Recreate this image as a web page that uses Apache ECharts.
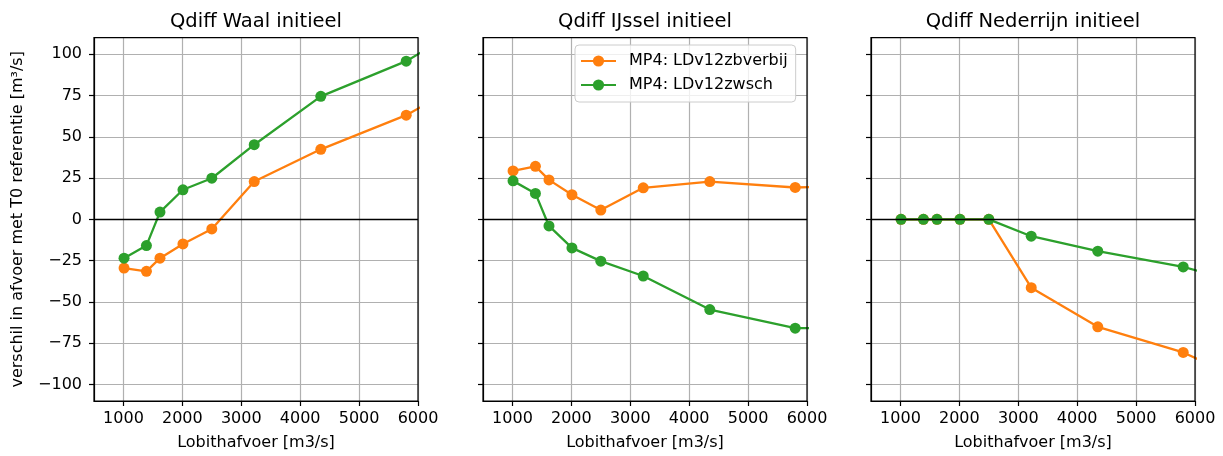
<!DOCTYPE html>
<html>
<head>
<meta charset="utf-8">
<script src="https://cdn.jsdelivr.net/npm/echarts@6/dist/echarts.min.js"></script>
<style>
  html, body { margin: 0; padding: 0; background: #fff; }
  #chart { width: 1223px; height: 456px; }
</style>
</head>
<body>
<div id="chart"></div>
<script>
// Lobith discharge [m3/s] for each computed scenario
const lobithQ = [1010, 1390, 1620, 2010, 2500, 3220, 4350, 5800, 7000];

// Discharge difference vs. T0 reference [m3/s]
const waalZbverbij = [-29.5, -31.5, -23.5, -14.9, -5.8, 22.9, 42.4, 63.1, 86.8];
const waalZwsch = [-23.5, -15.9, 4.4, 17.9, 24.9, 45.2, 74.5, 95.8, 121];
const ijsselZbverbij = [29.3, 32.1, 23.9, 14.9, 5.6, 19.1, 22.9, 19.3, 20.5];
const ijsselZwsch = [23.3, 15.7, -4.0, -17.3, -25.3, -34.3, -54.6, -65.9, -66];
const nederrijnZbverbij = [0, 0, 0, 0, 0, -41.4, -65.1, -80.6, -100];
const nederrijnZwsch = [0, 0, 0, 0, 0, -10.2, -19.3, -28.8, -40.3];

const panelTitles = ['Qdiff Waal initieel', 'Qdiff IJssel initieel', 'Qdiff Nederrijn initieel'];
const seriesNames = ['MP4: LDv12zbverbij', 'MP4: LDv12zwsch'];
const xTicks = [1000, 2000, 3000, 4000, 5000, 6000];
const yTicks = [-100, -75, -50, -25, 0, 25, 50, 75, 100];

const xLabel = 'Lobithafvoer [m3/s]';
const yLabel = 'verschil in afvoer met T0 referentie [m³/s]';

const panelData = [
  [waalZbverbij, waalZwsch],
  [ijsselZbverbij, ijsselZwsch],
  [nederrijnZbverbij, nederrijnZwsch]
];

const colors = ['#ff7f0e', '#2ca02c'];
const font = 'DejaVu Sans';
const gridLefts = [94, 483, 871];
const gridWidth = 324;
const gridTop = 37.7;
const gridHeight = 364.6;

const grids = gridLefts.map(l => ({
  left: l, top: gridTop, width: gridWidth, height: gridHeight,
  show: true, borderColor: '#000', borderWidth: 1.2, backgroundColor: 'transparent', z: 10
}));

const titles = panelTitles.map((t, i) => ({
  text: t,
  left: gridLefts[i] + gridWidth / 2,
  textAlign: 'center',
  top: 11.5,
  padding: 0,
  textStyle: { fontFamily: font, fontSize: 19.5, fontWeight: 'normal', color: '#000' }
}));

const xAxes = gridLefts.map((l, i) => ({
  type: 'value', gridIndex: i, min: 500, max: 6000,
  minInterval: 1000, maxInterval: 1000,
  name: xLabel, nameLocation: 'middle', nameGap: 34,
  nameTextStyle: { fontFamily: font, fontSize: 16, color: '#000' },
  axisLine: { show: true, onZero: false, lineStyle: { color: '#000', width: 1.2 } },
  axisTick: { show: true, length: 5, lineStyle: { color: '#000', width: 1.2 }, customValues: xTicks },
  axisLabel: { fontFamily: font, fontSize: 16, color: '#000', margin: 10, customValues: xTicks,
               formatter: v => String(v) },
  splitLine: { show: true, lineStyle: { color: '#b0b0b0', width: 1.2 } }
}));

const yAxes = gridLefts.map((l, i) => ({
  type: 'value', gridIndex: i, min: -110, max: 110,
  minInterval: 25, maxInterval: 25,
  name: i === 0 ? yLabel : '', nameLocation: 'middle', nameGap: 68, nameRotate: 90,
  nameTextStyle: { fontFamily: font, fontSize: 16, color: '#000' },
  axisLine: { show: true, onZero: false, lineStyle: { color: '#000', width: 1.2 } },
  axisTick: { show: true, length: 5, lineStyle: { color: '#000', width: 1.2 }, customValues: yTicks },
  axisLabel: { show: i === 0, fontFamily: font, fontSize: 16, color: '#000', margin: 12,
               customValues: yTicks,
               formatter: v => (v < 0 ? '\u2212' + Math.abs(v) : String(v)) },
  splitLine: { show: true, lineStyle: { color: '#b0b0b0', width: 1.2 } }
}));

const series = [];
panelData.forEach((pair, p) => {
  pair.forEach((vals, s) => {
    const item = {
      type: 'line',
      name: seriesNames[s],
      xAxisIndex: p, yAxisIndex: p,
      data: lobithQ.map((x, k) => [x, vals[k]]),
      symbol: 'circle', symbolSize: 11,
      showAllSymbol: true,
      clip: true,
      lineStyle: { color: colors[s], width: 2.3 },
      itemStyle: { color: colors[s] },
      emphasis: { disabled: true },
      z: 3 + s
    };
    if (s === 0) {
      // horizontal zero reference line
      item.markLine = {
        silent: true, symbol: ['none', 'none'], label: { show: false },
        lineStyle: { color: '#000', width: 1.3, type: 'solid' },
        data: [{ yAxis: 0 }],
        animation: false
      };
    }
    series.push(item);
  });
});

const chart = echarts.init(document.getElementById('chart'), null, { renderer: 'canvas' });
chart.setOption({
  animation: false,
  backgroundColor: '#fff',
  title: titles,
  grid: grids,
  xAxis: xAxes,
  yAxis: yAxes,
  legend: {
    data: seriesNames,
    orient: 'vertical',
    left: 575, top: 45,
    itemWidth: 35, itemHeight: 14, itemGap: 8,
    padding: [8, 8, 9, 5],
    backgroundColor: 'rgba(255,255,255,0.8)',
    borderColor: '#cccccc', borderWidth: 1, borderRadius: 4,
    textStyle: { fontFamily: font, fontSize: 16, color: '#000', padding: [0, 0, 0, 8] },
    z: 20
  },
  series: series
});
</script>
</body>
</html>
